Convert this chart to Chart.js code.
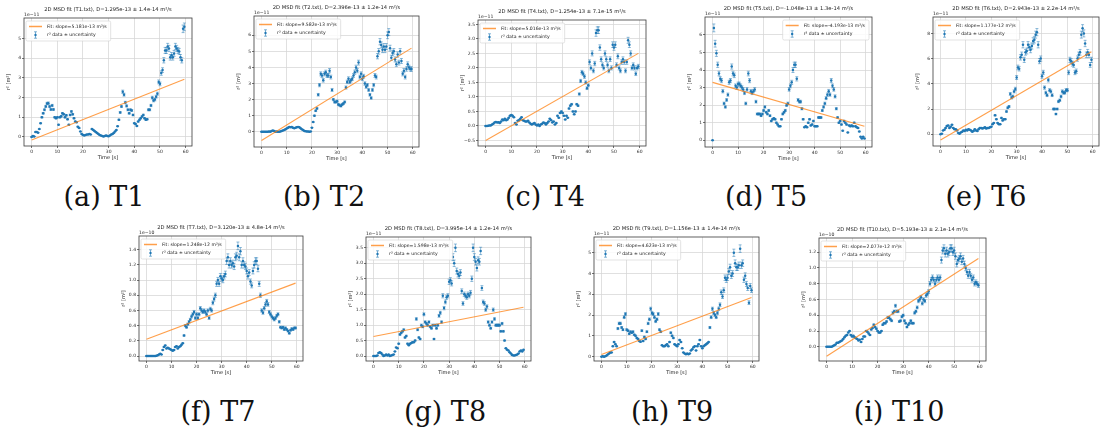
<!DOCTYPE html>
<html>
<head>
<meta charset="utf-8">
<script src="https://cdn.jsdelivr.net/npm/chart.js@4.4.0/dist/chart.umd.min.js"></script>
<style>
html, body { margin: 0; padding: 0; background: #fff; overflow: hidden; }
#fig { position: relative; width: 1102px; height: 433px; }
.panel { position: absolute; }
.cap { position: absolute; font-family: "DejaVu Serif", "Liberation Serif", serif; font-size: 27px; line-height: 32px;
       color: #111; transform: translateX(-50%); white-space: nowrap; }
</style>
</head>
<body>
<div id="fig"></div>
<script>
// time axis [s]
const times = [
  0, 0.5, 1, 1.5, 2, 2.5, 3, 3.5, 4, 4.5,
  5, 5.5, 6, 6.5, 7, 7.5, 8, 8.5, 9, 9.5,
  10, 10.5, 11, 11.5, 12, 12.5, 13, 13.5, 14, 14.5,
  15, 15.5, 16, 16.5, 17, 17.5, 18, 18.5, 19, 19.5,
  20, 20.5, 21, 21.5, 22, 22.5, 23, 23.5, 24, 24.5,
  25, 25.5, 26, 26.5, 27, 27.5, 28, 28.5, 29, 29.5,
  30, 30.5, 31, 31.5, 32, 32.5, 33, 33.5, 34, 34.5,
  35, 35.5, 36, 36.5, 37, 37.5, 38, 38.5, 39, 39.5,
  40, 40.5, 41, 41.5, 42, 42.5, 43, 43.5, 44, 44.5,
  45, 45.5, 46, 46.5, 47, 47.5, 48, 48.5, 49, 49.5,
  50, 50.5, 51, 51.5, 52, 52.5, 53, 53.5, 54, 54.5,
  55, 55.5, 56, 56.5, 57, 57.5, 58, 58.5, 59, 59.5
];

// r^2 values, in units of the axis offset (1e-11 or 1e-10 m^2)
const t1Y = [
  0.0, 0.05, 0.02, 0.25, 0.25, 0.22, 0.4, 0.7, 1.0, 1.2,
  1.38, 1.55, 1.7, 1.72, 1.55, 1.4, 1.6, 1.4, 1.0, 0.95,
  1.0, 0.62, 1.0, 1.05, 1.2, 1.15, 1.0, 1.1, 0.9, 0.62,
  1.12, 1.3, 1.15, 0.95, 0.78, 0.75, 0.52, 0.45, 0.28, 0.15,
  0.1, 0.08, 0.1, 0.12, 0.13, 0.15, 0.12, 0.4, 0.35, 0.3,
  0.25, 0.2, 0.15, 0.1, 0.07, 0.05, 0.02, 0.05, 0.08, 0.05,
  0.04, 0.08, 0.12, 0.15, 0.2, 0.28, 0.35, 0.55, 0.87, 1.25,
  1.55, 2.3, 2.15, 1.75, 1.58, 1.38, 1.2, 1.38, 1.35, 1.12,
  0.7, 0.66, 0.56, 0.78, 0.87, 0.95, 1.04, 1.12, 0.95, 0.87,
  0.9, 1.38, 1.38, 1.6, 2.0, 1.85, 1.9, 2.05, 2.2, 2.8,
  2.7, 3.25, 3.4, 3.9, 4.4, 4.4, 4.6, 4.5, 4.05, 4.15,
  4.05, 4.25, 4.6, 4.5, 4.4, 4.35, 4.05, 3.9, 5.5, 5.6
];
const t2Y = [
  0.0, 0.0, 0.0, 0.0, 0.0, 0.0, 0.02, 0.0, 0.05, 0.08,
  0.05, 0.0, 0.02, 0.0, 0.0, 0.02, 0.05, 0.08, 0.1, 0.15,
  0.2, 0.25, 0.3, 0.28, 0.3, 0.25, 0.22, 0.25, 0.28, 0.3,
  0.28, 0.22, 0.15, 0.1, 0.05, 0.03, 0.02, 0.02, 0.0, 0.02,
  0.25, 0.6, 1.0, 1.3, 1.45, 2.3, 2.9, 3.6, 3.5, 3.2,
  3.6, 3.7, 3.5, 3.5, 3.8, 3.4, 2.6, 2.0, 1.85, 1.85,
  1.9, 1.7, 1.65, 1.6, 1.7, 1.75, 1.85, 2.75, 3.1, 3.3,
  3.1, 3.2, 3.3, 3.5, 3.7, 4.0, 3.8, 4.3, 3.4, 3.6,
  3.3, 3.45, 3.0, 2.8, 2.9, 2.6, 2.3, 2.1, 2.6, 2.9,
  3.5, 3.4, 4.7, 5.0, 5.6, 5.4, 5.1, 5.3, 5.1, 5.3,
  6.0, 6.2, 5.2, 4.6, 4.9, 5.0, 4.5, 4.2, 4.8, 4.3,
  5.0, 4.4, 3.6, 3.8, 3.4, 3.9, 4.2, 4.0, 3.9, 3.9
];
const t4Y = [
  0.0, 0.0, 0.01, 0.02, 0.02, 0.05, 0.08, 0.12, 0.14, 0.12,
  0.13, 0.1, 0.15, 0.22, 0.2, 0.25, 0.2, 0.22, 0.28, 0.35,
  0.38, 0.35, 0.3, 0.1, 0.05, 0.18, 0.2, 0.25, 0.3, 0.2,
  0.18, 0.15, 0.15, 0.18, 0.12, 0.08, 0.05, 0.08, 0.1, 0.05,
  0.02, 0.05, 0.0, 0.05, 0.08, 0.12, 0.1, 0.05, 0.1, 0.15,
  0.25, 0.2, 0.12, 0.15, 0.05, 0.1, 0.35, 0.28, 0.45, 0.5,
  0.45, 0.35, 0.22, 0.35, 0.28, 0.6, 0.7, 0.75, 0.5, 0.4,
  0.5, 0.75, 0.7, 1.1, 1.55, 1.85, 1.8, 1.7, 1.5, 1.3,
  1.4, 2.2, 2.0, 2.5, 1.9, 2.15, 3.2, 3.3, 3.3, 2.7,
  2.3, 2.1, 2.0, 2.5, 2.3, 2.1, 1.9, 2.3, 2.0, 2.8,
  2.7, 2.8, 2.1, 2.4, 2.0, 1.9, 2.2, 2.3, 2.2, 1.9,
  2.2, 2.95, 2.8, 2.5, 2.0, 2.1, 2.0, 1.8, 2.0, 2.05
];
const t5Y = [
  0.0, 6.4, 5.5, 4.95, 4.3, 3.8, 3.5, 3.4, 2.8, 2.1,
  1.9, 2.3, 2.6, 3.3, 3.4, 4.2, 3.8, 3.7, 3.1, 3.0,
  3.2, 3.2, 3.1, 3.0, 2.9, 2.7, 2.1, 2.9, 3.8, 3.4,
  2.8, 2.7, 2.8, 2.9, 2.2, 1.5, 1.5, 1.5, 1.4, 1.5,
  1.7, 1.9, 1.6, 1.5, 1.7, 1.4, 1.1, 1.2, 1.25, 1.2,
  1.0, 0.9, 0.8, 0.8, 1.2, 1.5, 1.6, 1.7, 2.0, 2.1,
  2.9, 3.1, 3.3, 4.0, 4.3, 4.3, 3.5, 2.3, 2.2, 2.2,
  1.8, 1.2, 0.75, 0.8, 0.75, 1.0, 1.2, 0.85, 0.9, 1.1,
  0.8, 0.8, 0.8, 1.3, 1.3, 1.3, 1.7, 1.9, 2.1, 2.4,
  2.6, 2.8, 2.6, 3.4, 3.1, 2.9, 2.5, 1.8, 1.3, 1.0,
  1.1, 0.9, 0.55, 1.1, 1.0, 0.9, 0.45, 0.85, 0.8, 0.85,
  0.8, 1.0, 0.8, 0.75, 0.7, 0.5, 0.2, 0.1, 0.2, 0.1
];
const t6Y = [
  0.0, 0.05, 0.3, 0.35, 0.5, 0.65, 0.7, 0.5, 0.6, 0.75,
  0.5, 0.4, 0.4, 0.3, 0.1, 0.05, 0.15, 0.2, 0.3, 0.25,
  0.35, 0.3, 0.4, 0.35, 0.3, 0.2, 0.25, 0.4, 0.3, 0.25,
  0.4, 0.5, 0.5, 0.45, 0.5, 0.55, 0.45, 0.5, 0.5, 0.55,
  0.6, 0.8, 0.9, 1.5, 1.2, 0.9, 0.8, 0.8, 1.3, 1.1,
  1.2, 1.2, 1.8, 2.1, 2.2, 3.2, 2.9, 3.0, 3.4, 3.6,
  4.5, 5.3, 5.2, 6.1, 6.3, 7.1, 5.9, 6.5, 6.6, 7.1,
  6.9, 6.7, 7.0, 7.4, 7.5, 7.9, 8.1, 7.1, 5.8, 6.0,
  4.6, 4.9, 3.7, 3.3, 3.1, 4.3, 3.5, 3.4, 3.1, 2.0,
  2.0, 1.6, 2.0, 2.6, 2.7, 3.0, 3.4, 3.3, 3.3, 3.5,
  3.5, 4.9, 5.9, 5.8, 5.6, 5.5, 4.9, 5.0, 6.0, 6.3,
  6.5, 7.9, 8.4, 8.0, 7.2, 6.3, 6.5, 6.3, 5.5, 5.9
];
const t7Y = [
  0.0, 0.0, 0.0, 0.0, 0.0, 0.0, 0.0, 0.0, 0.005, 0.01,
  0.02, 0.03, 0.02, 0.08, 0.12, 0.14, 0.1, 0.11, 0.1, 0.09,
  0.08, 0.07, 0.08, 0.12, 0.13, 0.1, 0.12, 0.13, 0.15, 0.17,
  0.27, 0.4, 0.38, 0.42, 0.45, 0.48, 0.52, 0.55, 0.58, 0.5,
  0.55, 0.5, 0.55, 0.63, 0.6, 0.58, 0.6, 0.58, 0.55, 0.6,
  0.5, 0.62, 0.6, 0.7, 0.75, 0.8, 0.95, 1.0, 0.95, 1.05,
  1.02, 1.0, 1.05, 1.08, 1.25, 1.3, 1.2, 1.25, 1.2, 1.22,
  1.18, 1.3, 1.32, 1.45, 1.3, 1.38, 1.2, 1.25, 1.2, 1.18,
  1.12, 1.05, 1.1, 0.98, 0.93, 1.12, 1.2, 1.25, 1.25, 1.15,
  0.95, 0.8, 0.6, 0.57, 0.63, 0.68, 0.72, 0.68, 0.58, 0.55,
  0.52, 0.5, 0.48, 0.5, 0.53, 0.55, 0.45, 0.38, 0.37, 0.38,
  0.35, 0.37, 0.35, 0.33, 0.3, 0.34, 0.36, 0.35, 0.37, 0.37
];
const t8Y = [
  0.0, 0.0, 0.0, 0.02, 0.1, 0.12, 0.1, 0.05, 0.0, 0.02,
  0.05, 0.02, 0.05, 0.0, 0.02, 0.03, 0.05, 0.15, 0.28, 0.25,
  0.4, 0.7, 0.75, 0.8, 0.85, 0.6, 0.65, 0.4, 0.35, 0.4,
  0.42, 0.45, 0.45, 0.5, 1.2, 0.85, 0.6, 0.55, 1.0, 0.95,
  1.35, 1.1, 1.05, 1.0, 1.1, 0.95, 0.9, 1.0, 0.55, 1.0,
  0.9, 1.0, 1.3, 1.4, 1.1, 1.95, 1.55, 1.75, 1.9, 1.95,
  2.4, 2.45, 2.35, 3.2, 3.0, 3.5, 2.75, 2.65, 2.6, 2.7,
  2.1, 1.7, 2.0, 1.95, 1.9, 2.0, 1.95, 2.05, 2.5, 3.5,
  3.2, 3.05, 2.85, 3.1, 3.05, 3.4, 2.2, 1.75, 1.7, 1.5,
  1.6, 1.1, 1.0, 0.9, 1.1, 1.5, 1.2, 1.0, 1.0, 1.0,
  1.0, 0.8, 1.05, 0.8, 0.5, 0.25, 0.2, 0.18, 0.12, 0.08,
  0.03, 0.02, 0.02, 0.03, 0.05, 0.08, 0.15, 0.18, 0.15, 0.2
];
const t9Y = [
  0.0, 0.02, 0.0, 0.02, 0.05, 0.1, 0.15, 0.2, 0.2, 0.5,
  0.7, 0.6, 0.5, 1.35, 1.6, 1.6, 1.4, 1.3, 1.9, 2.05,
  1.3, 1.25, 1.1, 1.2, 1.15, 1.2, 1.05, 1.0, 0.9, 0.85,
  0.75, 0.72, 1.25, 0.75, 0.95, 0.85, 1.2, 1.6, 1.8, 2.3,
  2.1, 2.05, 1.9, 1.7, 1.8, 2.05, 1.3, 1.2, 0.55, 0.5,
  0.5, 0.55, 0.6, 0.5, 0.7, 1.15, 1.0, 0.9, 0.6, 0.55,
  0.5, 0.6, 0.8, 0.7, 0.4, 0.2, 0.15, 0.12, 0.15, 0.12,
  0.15, 0.3, 0.35, 0.45, 0.5, 0.3, 0.5, 0.6, 0.8, 0.5,
  0.4, 0.5, 0.55, 0.6, 0.65, 0.7, 1.4, 1.9, 2.3, 2.1,
  2.0, 1.9, 2.1, 2.3, 2.5, 3.1, 2.9, 3.2, 3.8, 3.7,
  3.8, 4.1, 4.3, 3.9, 4.0, 5.0, 4.5, 4.3, 4.3, 4.4,
  5.2, 4.4, 4.5, 3.7, 3.9, 3.5, 3.3, 2.6, 3.4, 3.2
];
const t10Y = [
  0.0, 0.0, 0.0, 0.0, 0.0, 0.01, 0.02, 0.03, 0.05, 0.05,
  0.06, 0.07, 0.08, 0.1, 0.12, 0.14, 0.15, 0.18, 0.2, 0.15,
  0.13, 0.14, 0.12, 0.11, 0.1, 0.08, 0.09, 0.06, 0.1, 0.13,
  0.13, 0.2, 0.19, 0.17, 0.15, 0.22, 0.24, 0.28, 0.25, 0.23,
  0.2, 0.18, 0.18, 0.2, 0.28, 0.3, 0.3, 0.32, 0.37, 0.37,
  0.35, 0.33, 0.43, 0.45, 0.52, 0.45, 0.45, 0.32, 0.33, 0.38,
  0.4, 0.33, 0.3, 0.25, 0.28, 0.3, 0.33, 0.3, 0.3, 0.43,
  0.45, 0.5, 0.58, 0.6, 0.63, 0.55, 0.6, 0.58, 0.65, 0.67,
  0.7, 0.8, 0.85, 0.88, 0.85, 0.8, 0.85, 0.88, 0.85, 0.88,
  1.1, 1.22, 1.25, 1.18, 1.22, 1.18, 1.2, 1.25, 1.25, 1.2,
  1.22, 1.15, 1.05, 1.1, 1.12, 1.15, 1.08, 1.12, 1.05, 1.0,
  0.95, 0.9, 0.95, 0.9, 0.85, 0.88, 0.8, 0.82, 0.8, 0.78
];

// linear fit: value at t = 0 and at t = 59.5
const fitT = [0, 59.5];
const fitY = [
  [-0.15, 2.93], [-0.55, 5.2], [-0.5, 2.5], [3.3, 0.8], [-0.45, 6.55],
  [0.22, 0.96], [0.63, 1.58], [0.1, 2.85], [-0.12, 1.12]
];

const seriesY = [t1Y, t2Y, t4Y, t5Y, t6Y, t7Y, t8Y, t9Y, t10Y];

const titles = [
  '2D MSD fit (T1.txt), D=1.295e-13 \u00b1 1.4e-14 m\u00b2/s',
  '2D MSD fit (T2.txt), D=2.396e-13 \u00b1 1.2e-14 m\u00b2/s',
  '2D MSD fit (T4.txt), D=1.254e-13 \u00b1 7.1e-15 m\u00b2/s',
  '2D MSD fit (T5.txt), D=-1.048e-13 \u00b1 1.3e-14 m\u00b2/s',
  '2D MSD fit (T6.txt), D=2.943e-13 \u00b1 2.2e-14 m\u00b2/s',
  '2D MSD fit (T7.txt), D=3.120e-13 \u00b1 4.8e-14 m\u00b2/s',
  '2D MSD fit (T8.txt), D=3.995e-14 \u00b1 1.2e-14 m\u00b2/s',
  '2D MSD fit (T9.txt), D=1.156e-13 \u00b1 1.4e-14 m\u00b2/s',
  '2D MSD fit (T10.txt), D=5.193e-13 \u00b1 2.1e-14 m\u00b2/s'
];
const fitLabels = [
  'Fit: slope=5.181e-13 m\u00b2/s', 'Fit: slope=9.582e-13 m\u00b2/s', 'Fit: slope=5.016e-13 m\u00b2/s',
  'Fit: slope=-4.193e-13 m\u00b2/s', 'Fit: slope=1.177e-12 m\u00b2/s', 'Fit: slope=1.248e-12 m\u00b2/s',
  'Fit: slope=1.598e-13 m\u00b2/s', 'Fit: slope=4.623e-13 m\u00b2/s', 'Fit: slope=2.077e-12 m\u00b2/s'
];
const dataLabel = 'r\u00b2 data \u00b1 uncertainty';
const offsets = ['1e\u221211', '1e\u221211', '1e\u221211', '1e\u221211', '1e\u221211',
                 '1e\u221210', '1e\u221211', '1e\u221211', '1e\u221210'];
const captions = ['(a) T1', '(b) T2', '(c) T4', '(d) T5', '(e) T6', '(f) T7', '(g) T8', '(h) T9', '(i) T10'];

// tick labels
const xTicks = [0, 10, 20, 30, 40, 50, 60];
const yTicks = [
  [0, 1, 2, 3, 4, 5], [0, 1, 2, 3, 4, 5, 6], [-0.5, 0, 0.5, 1, 1.5, 2, 2.5, 3, 3.5],
  [0, 1, 2, 3, 4, 5, 6], [0, 2, 4, 6, 8], [0, 0.2, 0.4, 0.6, 0.8, 1, 1.2, 1.4],
  [0, 0.5, 1, 1.5, 2, 2.5, 3, 3.5], [0, 1, 2, 3, 4, 5], [0, 0.2, 0.4, 0.6, 0.8, 1, 1.2]
];
const yDigits = [0, 0, 1, 0, 0, 1, 1, 0, 1];
const yRanges = [
  [-0.46, 6.05], [-0.95, 7.2], [-0.69, 3.65], [-0.38, 7.02], [-0.93, 9.3],
  [-0.065, 1.58], [-0.16, 3.85], [-0.21, 5.76], [-0.18, 1.38]
];
const relErr = 0.035;   // error bars: about 3.5 % of the value

// layout: axes box [left, top, right, bottom] in page pixels, caption centre
const axesBoxes = [
  [24, 18, 193, 146], [254, 16, 420, 147], [478, 20, 647, 146], [705, 17, 873, 147], [933, 17, 1100, 146],
  [139, 236, 304, 361], [366, 237, 532, 361], [594, 237, 760, 361], [819, 238, 987, 361]
];
const capPos = [[104, 181], [324, 181], [545, 181], [766, 181], [986, 181],
                [218, 396], [445, 396], [672, 396], [899, 396]];
const legendRight = [false, false, false, true, false, false, false, false, false];

const BLUE = '#1f77b4';
const ORANGE = 'rgba(255,127,14,0.75)';
const FONT = '"DejaVu Sans", sans-serif';
const fig = document.getElementById('fig');

function decorPlugin(i) {
  return {
    id: 'decor' + i,
    beforeDatasetsDraw(chart) {
      const ctx = chart.ctx, ys = chart.scales.y;
      const meta = chart.getDatasetMeta(1);
      ctx.save();
      ctx.strokeStyle = 'rgba(31,119,180,0.65)';
      ctx.lineWidth = 0.75;
      meta.data.forEach((pt, k) => {
        const v = seriesY[i][k], e = Math.abs(v) * relErr;
        const y0 = ys.getPixelForValue(v - e), y1 = ys.getPixelForValue(v + e);
        ctx.beginPath();
        ctx.moveTo(pt.x, y0); ctx.lineTo(pt.x, y1);
        ctx.moveTo(pt.x - 1.5, y0); ctx.lineTo(pt.x + 1.5, y0);
        ctx.moveTo(pt.x - 1.5, y1); ctx.lineTo(pt.x + 1.5, y1);
        ctx.stroke();
      });
      ctx.restore();
    },
    afterDraw(chart) {
      const ctx = chart.ctx, ca = chart.chartArea;
      ctx.save();
      // spines
      ctx.strokeStyle = '#3a3a3a';
      ctx.lineWidth = 0.8;
      ctx.strokeRect(ca.left, ca.top, ca.right - ca.left, ca.bottom - ca.top);
      // title and offset text
      ctx.fillStyle = '#1a1a1a';
      ctx.textBaseline = 'middle';
      ctx.textAlign = 'center';
      ctx.font = '5.2px ' + FONT;
      ctx.fillText(titles[i], (ca.left + ca.right) / 2, ca.top - 8);
      ctx.textAlign = 'left';
      ctx.font = '4.6px ' + FONT;
      ctx.fillText(offsets[i], ca.left, ca.top - 3);
      // legend
      ctx.font = '4.6px ' + FONT;
      const rows = [fitLabels[i], dataLabel];
      const tw = Math.max(...rows.map(r => ctx.measureText(r).width));
      const bw = tw + 25, bh = 20;
      const bx = legendRight[i] ? ca.right - 3 - bw : ca.left + 2;
      const by = ca.top + 3;
      ctx.beginPath();
      ctx.roundRect(bx, by, bw, bh, 1.5);
      ctx.fillStyle = 'rgba(255,255,255,0.85)';
      ctx.fill();
      ctx.strokeStyle = '#d0d0d0';
      ctx.lineWidth = 0.6;
      ctx.stroke();
      ctx.strokeStyle = ORANGE;
      ctx.lineWidth = 1.5;
      ctx.beginPath();
      ctx.moveTo(bx + 3, by + 5.5); ctx.lineTo(bx + 16, by + 5.5);
      ctx.stroke();
      const ex = bx + 9.5, ey = by + 14;
      ctx.strokeStyle = 'rgba(31,119,180,0.75)';
      ctx.lineWidth = 0.75;
      ctx.beginPath();
      ctx.moveTo(ex, ey - 3.2); ctx.lineTo(ex, ey + 3.2);
      ctx.moveTo(ex - 1.5, ey - 3.2); ctx.lineTo(ex + 1.5, ey - 3.2);
      ctx.moveTo(ex - 1.5, ey + 3.2); ctx.lineTo(ex + 1.5, ey + 3.2);
      ctx.stroke();
      ctx.fillStyle = BLUE;
      ctx.beginPath(); ctx.arc(ex, ey, 1.2, 0, Math.PI * 2); ctx.fill();
      ctx.fillStyle = '#1a1a1a';
      ctx.fillText(rows[0], bx + 21, by + 5.5);
      ctx.fillText(rows[1], bx + 21, by + 14);
      ctx.restore();
    }
  };
}

function makeChart(i) {
  const [L, T, R, B] = axesBoxes[i];
  const yw = 18, xh = 15, topRoom = 13;
  const cl = Math.max(0, L - yw), ct = Math.max(0, T - topRoom);
  const w = R - cl + 3, h = B - ct + xh;
  const canvas = document.createElement('canvas');
  canvas.className = 'panel';
  canvas.width = w; canvas.height = h;
  canvas.style.left = cl + 'px'; canvas.style.top = ct + 'px';
  canvas.style.width = w + 'px'; canvas.style.height = h + 'px';
  fig.appendChild(canvas);

  const gridOpts = { color: '#d6d6d6', lineWidth: 0.75, tickColor: '#444', tickLength: 2 };
  new Chart(canvas, {
    type: 'scatter',
    data: {
      datasets: [
        {
          label: fitLabels[i], type: 'line', order: 0,
          data: fitT.map((t, k) => ({ x: t, y: fitY[i][k] })),
          borderColor: ORANGE, borderWidth: 1.1, pointRadius: 0, fill: false
        },
        {
          label: dataLabel, order: 1,
          data: times.map((t, k) => ({ x: t, y: seriesY[i][k] })),
          backgroundColor: BLUE, borderWidth: 0, pointRadius: 1.25
        }
      ]
    },
    options: {
      responsive: false,
      animation: false,
      layout: { padding: { top: T - ct, left: L - cl - yw, right: 3, bottom: 0 } },
      plugins: { legend: { display: false }, tooltip: { enabled: false } },
      scales: {
        x: {
          type: 'linear', min: -2.975, max: 62.475,
          afterFit: s => { s.height = xh; },
          afterBuildTicks: s => { s.ticks = xTicks.map(v => ({ value: v })); },
          ticks: { font: { family: FONT, size: 4.5 }, color: '#2a2a2a', padding: 1, maxRotation: 0, autoSkip: false },
          grid: gridOpts,
          border: { display: false },
          title: { display: true, text: 'Time [s]', font: { family: FONT, size: 5 }, color: '#1a1a1a', padding: 0 }
        },
        y: {
          type: 'linear', min: yRanges[i][0], max: yRanges[i][1],
          afterFit: s => { s.width = yw; },
          afterBuildTicks: s => { s.ticks = yTicks[i].map(v => ({ value: v })); },
          ticks: {
            font: { family: FONT, size: 4.5 }, color: '#2a2a2a', padding: 1, autoSkip: false,
            callback: v => v.toFixed(yDigits[i]).replace('-', '\u2212')
          },
          grid: gridOpts,
          border: { display: false },
          title: { display: true, text: 'r\u00b2 [m\u00b2]', font: { family: FONT, size: 5 }, color: '#1a1a1a', padding: 0 }
        }
      }
    },
    plugins: [decorPlugin(i)]
  });

  const cap = document.createElement('div');
  cap.className = 'cap';
  cap.textContent = captions[i];
  cap.style.left = capPos[i][0] + 'px';
  cap.style.top = capPos[i][1] + 'px';
  fig.appendChild(cap);
}

for (let i = 0; i < 9; i++) makeChart(i);
</script>
</body>
</html>
